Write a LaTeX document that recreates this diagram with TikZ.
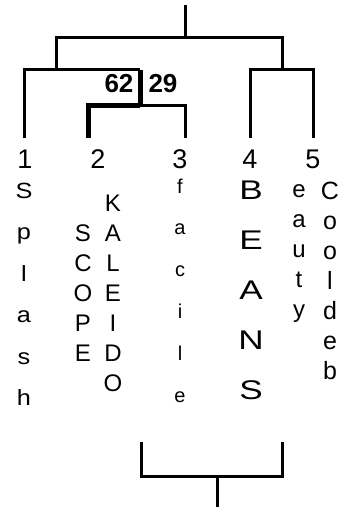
\documentclass[tikz,border=0pt]{standalone}
\usepackage{graphicx}
\usepackage{fontspec}
\setmainfont{Liberation Sans}
\usetikzlibrary{calc}
\newcommand{\widen}[2][1.3]{\scalebox{#1}[1]{#2}}
\tikzset{branch/.style={draw=black,line width=3pt},heavy/.style={draw=black,line width=5pt},
leafnum/.style={anchor=base,inner sep=0pt,font=\fontsize{27}{27}\selectfont},
score/.style={anchor=base,inner sep=0pt,font=\bfseries\fontsize{26}{26}\selectfont},
letter/.style={anchor=base,inner sep=0pt}}

\begin{document}
\begin{tikzpicture}[x=1pt,y=-1pt]
\useasboundingbox (0,0) rectangle (342,508);
% tree
\coordinate (stem) at (185,5);\coordinate (root) at (185,38);
\coordinate (j123) at (56,70);\coordinate (c123) at (140,70);\coordinate (j45) at (282,70);
\coordinate (j23) at (140,106);
\foreach \n/\x in {1/24,2/88,3/185,4/250,5/313}{\coordinate (t\n) at (\x,138);}
\draw[branch] (stem)--(root);
\draw[branch] (j123) |- (root) -| (j45);
\draw[branch] (t1) |- (c123);
\draw[heavy] (c123)--(j23);
\draw[heavy] (t2) |- (j23);
\draw[branch] (j23) -| (t3);
\draw[branch] (t4) |- (j45) -| (t5);
\node[score] (s62) at (119,93) {62};
\node[score] (s29) at (163,93) {29};
% leaf numbers
\foreach \n/\x in {1/25,2/98,3/180,4/250,5/313}{\node[leafnum] (n\n) at (\x,168) {\n};}
% vertical words
\foreach \c [count=\i] in {S,p,l,a,s,h}{\node[letter,font=\fontsize{22}{22}\selectfont] (spl\i) at (24,198+41.5*\i-41.5) {\widen[1.15]{\c}};}
\foreach \c [count=\i] in {S,C,O,P,E}{\node[letter,font=\fontsize{24}{24}\selectfont] (sco\i) at (83,241+30*\i-30) {\c};}
\foreach \c [count=\i] in {K,A,L,E,I,D,O}{\node[letter,font=\fontsize{24}{24}\selectfont] (kal\i) at (113,211+30*\i-30) {\c};}
\foreach \c [count=\i] in {f,a,c,i,l,e}{\node[letter,font=\fontsize{20}{20}\selectfont] (fac\i) at (180,193+41.8*\i-41.8) {\c};}
\foreach \c [count=\i] in {B,E,A,N,S}{\node[letter,font=\fontsize{27}{27}\selectfont] (bea\i) at (251,199+50*\i-50) {\widen{\c}};}
\foreach \c [count=\i] in {e,a,u,t,y}{\node[letter,font=\fontsize{24}{24}\selectfont] (eau\i) at (299,197+30*\i-30) {\c};}
\foreach \c [count=\i] in {C,o,o,l,d,e,b}{\node[letter,font=\fontsize{25}{25}\selectfont] (coo\i) at (330,199+30*\i-30) {\c};}
% bottom bracket
\coordinate (b1) at (141,442);\coordinate (b2) at (282,442);
\coordinate (bm) at (217,476);\coordinate (bb) at (217,507);
\draw[branch] (b1) |- (bm) -| (b2);
\draw[branch] (bm)--(bb);
\end{tikzpicture}
\end{document}
